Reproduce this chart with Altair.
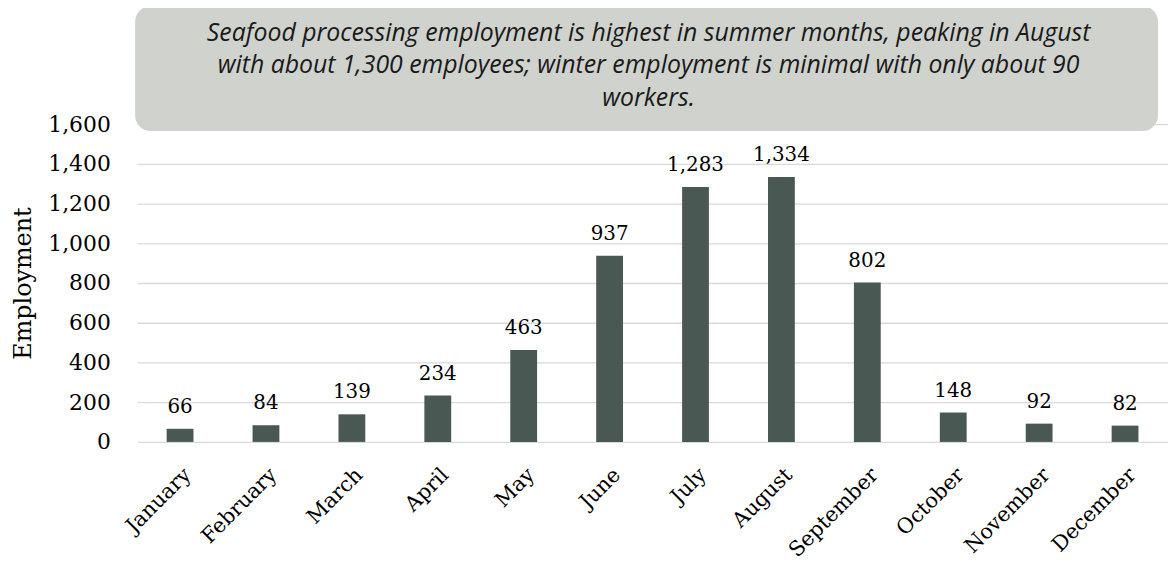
import altair as alt
import pandas as pd

months = ["January", "February", "March", "April", "May", "June", "July",
          "August", "September", "October", "November", "December"]
employment = [66, 84, 139, 234, 463, 937, 1283, 1334, 802, 148, 92, 82]
y_ticks = [0, 200, 400, 600, 800, 1000, 1200, 1400, 1600]
title_lines = [
    "Seafood processing employment is highest in summer months, peaking in August",
    "with about 1,300 employees; winter employment is minimal with only about 90",
    "workers.",
]

df = pd.DataFrame({"month": months, "employment": employment})
one = pd.DataFrame({"k": [0]})

SERIF = "DejaVu Serif"
BAR = "#4a5854"

x = alt.X("month:N", sort=months, title=None,
          scale=alt.Scale(paddingInner=0, paddingOuter=0),
          axis=alt.Axis(labelAngle=-45, labelFont=SERIF, labelFontSize=21,
                        labelColor="#000000", labelPadding=22, ticks=False,
                        domain=False, labelOverlap=False))
y = alt.Y("employment:Q", title="Employment",
          scale=alt.Scale(domain=[0, 1600], nice=False),
          axis=alt.Axis(values=y_ticks, format=",.0f", labelFont=SERIF,
                        labelFontSize=22, labelColor="#000000", labelPadding=27,
                        labelOverlap=False, labelBound=False,
                        ticks=False, domain=False, gridColor="#d9d9d9",
                        gridWidth=1.3, titleFont=SERIF, titleFontSize=24,
                        titleFontWeight="normal", titleColor="#000000",
                        titleAngle=-90, titleX=-114, titleY=160,
                        titleAlign="center", titleBaseline="middle"))

bars = alt.Chart(df).mark_bar(size=27, color=BAR).encode(x=x, y=y)
labels = alt.Chart(df).mark_text(baseline="bottom", dy=-12, font=SERIF,
                                 fontSize=20, color="#000000").encode(
    x=x,
    y=y,
    text=alt.Text("employment:Q", format=",.0f"),
)

box = alt.Chart(one).mark_rect(cornerRadius=16, color="#d0d2cd").encode(
    x=alt.value(-2), x2=alt.value(1028), y=alt.value(-119), y2=alt.value(7))
note = alt.Chart(one).mark_text(
    text=title_lines, font="Open Sans", fontStyle="italic", fontSize=25,
    lineHeight=33, align="center", baseline="middle", color="#1a1a1a"
).encode(x=alt.value(515), y=alt.value(-92))

chart = alt.layer(bars, labels, box, note).properties(
    width=1038, height=320,
    autosize=alt.AutoSizeParams(type="none"),
    padding={"left": 130, "top": 115, "right": 0, "bottom": 120},
).configure_view(stroke=None)

chart.save("out.html", embed_options={"renderer": "svg", "actions": False})
